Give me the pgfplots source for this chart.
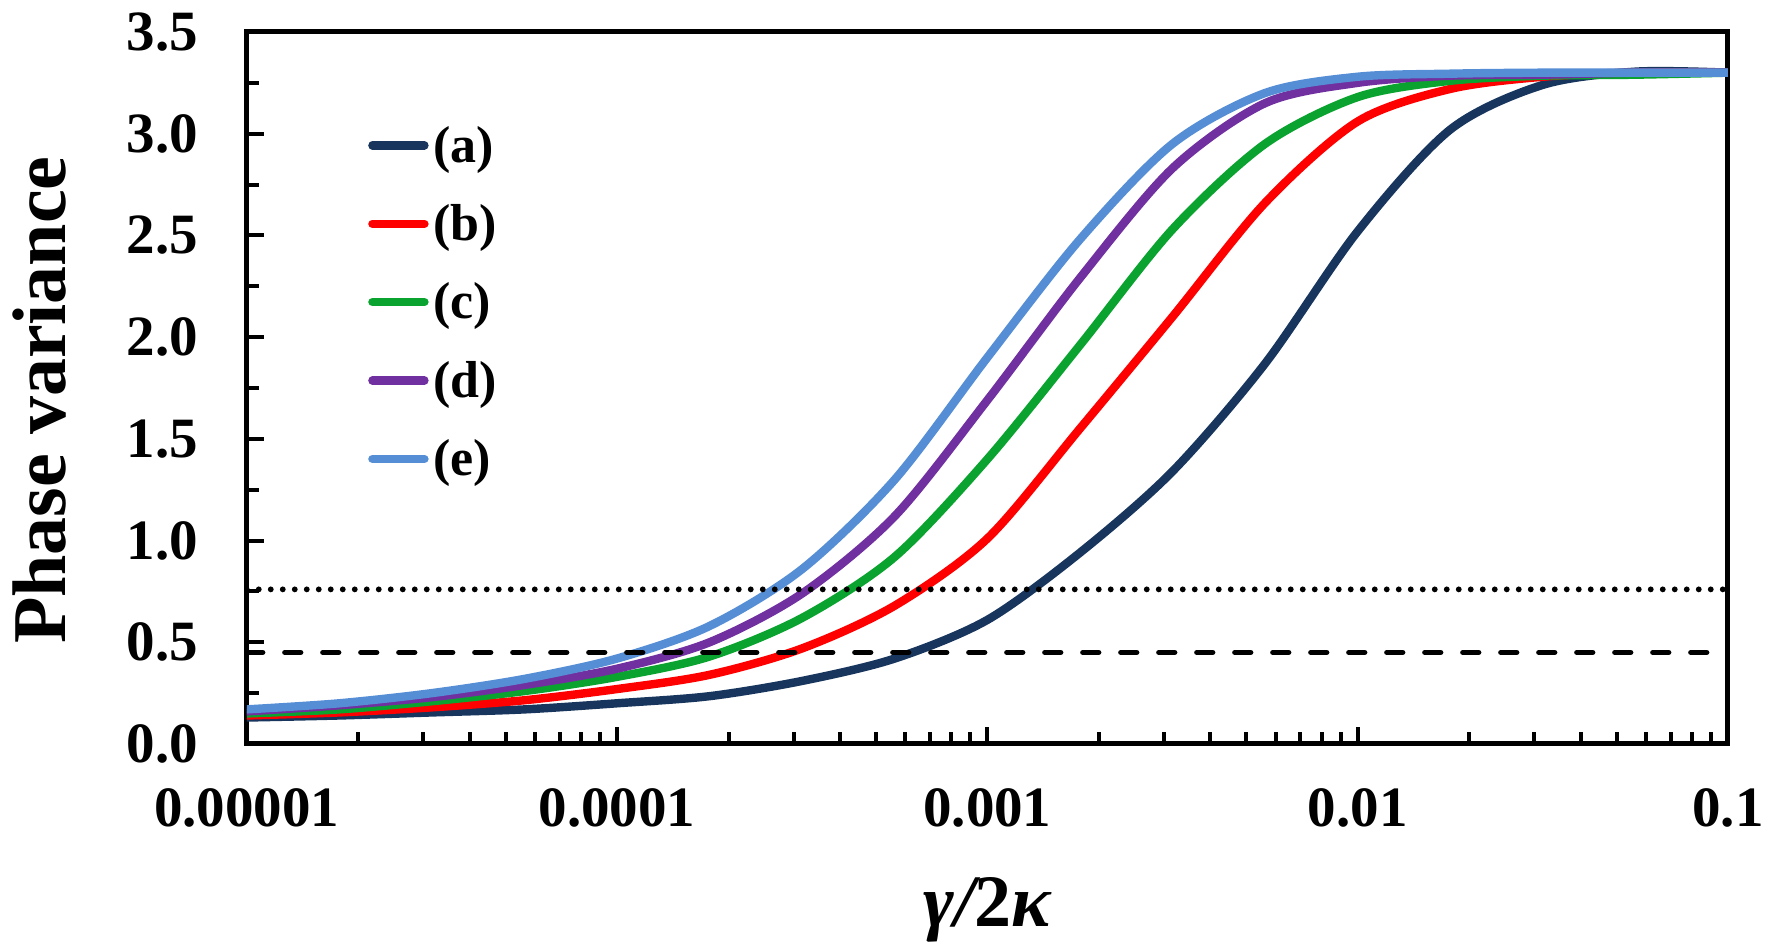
\documentclass[border=0pt]{standalone}
\usepackage{fontspec}
\setmainfont{Liberation Serif}
\usepackage{pgfplots}
\pgfplotsset{compat=1.18}
\definecolor{ca}{RGB}{24,54,93}
\definecolor{cb}{RGB}{255,0,0}
\definecolor{cc}{RGB}{11,163,47}
\definecolor{cd}{RGB}{112,48,160}
\definecolor{ce}{RGB}{85,142,213}
\begin{document}
\begin{tikzpicture}
\begin{axis}[
  name=ax, at={(0,0)}, anchor=south west,
  scale only axis, width=370.3pt, height=178pt,
  xmode=log, xmin=1e-5, xmax=0.1, ymin=0, ymax=3.5,
  xtick={1e-5,1e-4,1e-3,1e-2,1e-1},
  xticklabels={0.00001,0.0001,0.001,0.01,0.1},
  ytick={0,0.5,1,1.5,2,2.5,3,3.5},
  minor y tick num=1,
  tick pos=left, tick align=inside,
  major tick length=4.3pt, minor tick length=3.1pt,
  every tick/.append style={black, line width=1pt},
  axis line style={line width=1.25pt},
  tick label style={font=\fontsize{14.25}{17}\selectfont\bfseries},
  x tick label style={yshift=-7.5pt},
  y tick label style={/pgf/number format/.cd, fixed, fixed zerofill, precision=1, assume math mode=true, /tikz/.cd, xshift=-8.7pt},
  xlabel={{\itshape γ/}2{\itshape κ}},
  xlabel style={at={(axis description cs:0.5,-0.257)}, anchor=base, font=\fontsize{18.5}{21}\selectfont\bfseries},
  ylabel={Phase variance},
  ylabel style={at={(axis description cs:-0.1226,0.483)}, anchor=base, font=\fontsize{19}{22}\selectfont\bfseries},
  legend cell align=left,
  legend style={draw=none, fill=none, at={(axis description cs:0.082,0.879)}, anchor=north west,
    inner sep=0pt, outer sep=0pt, row sep=6pt, column sep=1.2pt,
    font=\fontsize{13}{15}\selectfont\bfseries,
    nodes={inner sep=0pt, text height=11pt, text depth=2.6pt}},
  legend image code/.code={\draw[#1, line width=2.1pt, line cap=round] (0pt,0pt) -- (13pt,0pt);},
  every axis plot/.append style={line width=2.1pt, line join=round},
]
\addplot[ca, smooth, tension=0.5] coordinates {
(1e-5,0.13) (1.778e-5,0.14) (3.162e-5,0.155) (5.623e-5,0.17) (1e-4,0.20) (1.778e-4,0.235) (3.162e-4,0.31)
(5.623e-4,0.42) (1e-3,0.61) (1.778e-3,0.94) (3.162e-3,1.34) (5.623e-3,1.87) (1e-2,2.52) (1.778e-2,3.02)
(3.162e-2,3.24) (5.623e-2,3.305) (0.1,3.30)};
\addlegendentry{(a)}
\addplot[cb, smooth, tension=0.5] coordinates {
(1e-5,0.14) (1.778e-5,0.155) (3.162e-5,0.18) (5.623e-5,0.215) (1e-4,0.27) (1.778e-4,0.34) (3.162e-4,0.47)
(5.623e-4,0.68) (1e-3,1.01) (1.778e-3,1.55) (3.162e-3,2.10) (5.623e-3,2.66) (1e-2,3.06) (1.778e-2,3.22)
(3.162e-2,3.28) (5.623e-2,3.30) (0.1,3.30)};
\addlegendentry{(b)}
\addplot[cc, smooth, tension=0.5] coordinates {
(1e-5,0.15) (1.778e-5,0.17) (3.162e-5,0.21) (5.623e-5,0.26) (1e-4,0.33) (1.778e-4,0.43) (3.162e-4,0.62)
(5.623e-4,0.92) (1e-3,1.40) (1.778e-3,1.96) (3.162e-3,2.53) (5.623e-3,2.95) (1e-2,3.18) (1.778e-2,3.26)
(3.162e-2,3.285) (5.623e-2,3.29) (0.1,3.30)};
\addlegendentry{(c)}
\addplot[cd, smooth, tension=0.5] coordinates {
(1e-5,0.16) (1.778e-5,0.19) (3.162e-5,0.23) (5.623e-5,0.29) (1e-4,0.37) (1.778e-4,0.50) (3.162e-4,0.74)
(5.623e-4,1.12) (1e-3,1.69) (1.778e-3,2.29) (3.162e-3,2.83) (5.623e-3,3.15) (1e-2,3.25) (1.778e-2,3.285)
(3.162e-2,3.29) (5.623e-2,3.30) (0.1,3.30)};
\addlegendentry{(d)}
\addplot[ce, smooth, tension=0.5] coordinates {
(1e-5,0.17) (1.778e-5,0.20) (3.162e-5,0.25) (5.623e-5,0.32) (1e-4,0.42) (1.778e-4,0.58) (3.162e-4,0.86)
(5.623e-4,1.30) (1e-3,1.90) (1.778e-3,2.48) (3.162e-3,2.95) (5.623e-3,3.20) (1e-2,3.28) (1.778e-2,3.295)
(3.162e-2,3.30) (5.623e-2,3.30) (0.1,3.30)};
\addlegendentry{(e)}
\addplot[black, line width=1.45pt, line cap=round, dash pattern=on 0pt off 3pt, forget plot] coordinates {(1e-5,0.76) (0.1,0.76)};
\addplot[black, line width=1.3pt, line cap=round, dash pattern=on 4pt off 5.5pt, forget plot] coordinates {(1e-5,0.45) (0.1,0.45)};
\end{axis}
\pgfresetboundingbox
\path[use as bounding box] ([xshift=-61.7pt,yshift=-50.75pt]ax.south west) rectangle ([xshift=11pt,yshift=8pt]ax.north east);
\end{tikzpicture}
\end{document}
